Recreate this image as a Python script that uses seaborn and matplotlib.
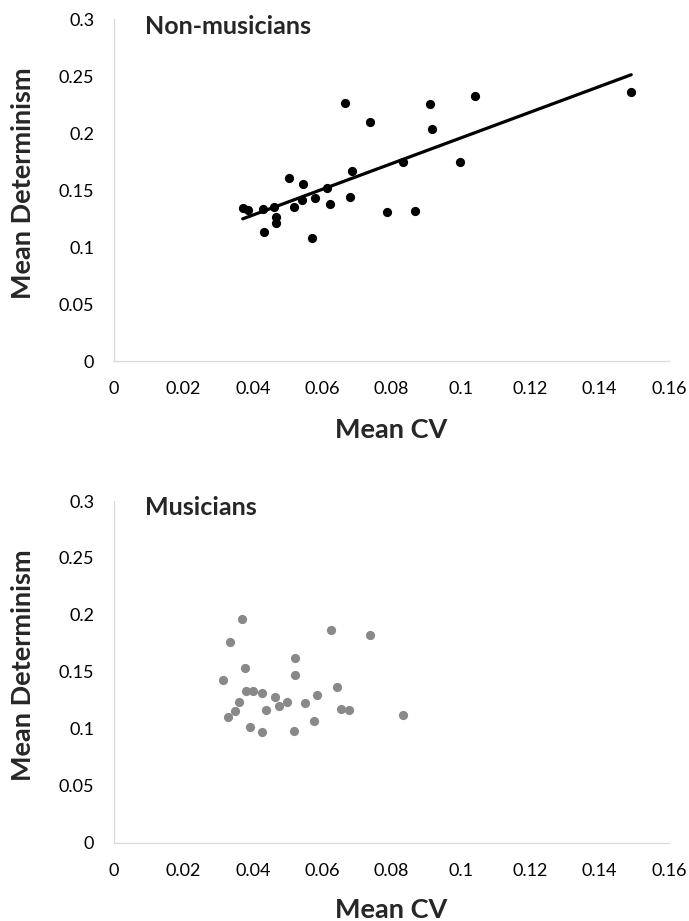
import matplotlib
matplotlib.use('Agg')
import matplotlib.pyplot as plt
from matplotlib.ticker import FuncFormatter
import seaborn as sns
import pandas as pd

# Non-musicians: mean CV vs mean determinism
nm_cv = [0.0371, 0.0387, 0.0429, 0.0460, 0.0467, 0.0467, 0.0432, 0.0503,
         0.0520, 0.0541, 0.0545, 0.0580, 0.0615, 0.0624, 0.0571, 0.0666,
         0.0679, 0.0686, 0.0738, 0.0786, 0.0833, 0.0868, 0.0911, 0.0916,
         0.0997, 0.1042, 0.1491]
nm_det = [0.1342, 0.1327, 0.1339, 0.1351, 0.1266, 0.1216, 0.1135, 0.1611,
          0.1351, 0.1418, 0.1553, 0.1430, 0.1518, 0.1377, 0.1079, 0.2263,
          0.1439, 0.1670, 0.2099, 0.1313, 0.1749, 0.1322, 0.2254, 0.2038,
          0.1749, 0.2330, 0.2360]

# Musicians
mus_cv = [0.0369, 0.0333, 0.0625, 0.0737, 0.0523, 0.0378, 0.0523, 0.0314,
          0.0644, 0.0380, 0.0402, 0.0427, 0.0465, 0.0586, 0.0359, 0.0500,
          0.0475, 0.0551, 0.0350, 0.0439, 0.0653, 0.0676, 0.0330, 0.0833,
          0.0576, 0.0391, 0.0427, 0.0520]
mus_det = [0.1961, 0.1759, 0.1865, 0.1826, 0.1621, 0.1533, 0.1475, 0.1425,
           0.1369, 0.1331, 0.1331, 0.1311, 0.1281, 0.1299, 0.1234, 0.1232,
           0.1202, 0.1223, 0.1158, 0.1167, 0.1173, 0.1164, 0.1106, 0.1117,
           0.1067, 0.1018, 0.0968, 0.0979]

panel_titles = ['Non-musicians', 'Musicians']
x_ticks = [0, 0.02, 0.04, 0.06, 0.08, 0.1, 0.12, 0.14, 0.16]
y_ticks = [0, 0.05, 0.1, 0.15, 0.2, 0.25, 0.3]

sns.set_style('white')
plt.rcParams['font.family'] = ['Lato', 'DejaVu Sans']

axis_grey = '#d9d9d9'
fig = plt.figure(figsize=(6.89, 9.21), dpi=100)
ax_top = fig.add_axes([0.1655, 0.6077, 0.8055, 0.3713])
ax_bot = fig.add_axes([0.1655, 0.0850, 0.8055, 0.3710])

nm_df = pd.DataFrame({'cv': nm_cv, 'det': nm_det})
mus_df = pd.DataFrame({'cv': mus_cv, 'det': mus_det})

# Top panel with linear trend line
sns.regplot(data=nm_df, x='cv', y='det', ax=ax_top, ci=None,
            scatter_kws={'s': 44, 'color': 'black', 'linewidths': 0,
                         'alpha': 1},
            line_kws={'color': 'black', 'linewidth': 2.3})

# Bottom panel, no trend
sns.scatterplot(data=mus_df, x='cv', y='det', ax=ax_bot, s=44,
                color='#898989', linewidth=0)

fmt = FuncFormatter(lambda v, pos: f'{v:g}')
label_y = {'Non-musicians': -0.166, 'Musicians': -0.162}
for ax, title in zip([ax_top, ax_bot], panel_titles):
    ax.set_xlim(0, 0.16)
    ax.set_ylim(0, 0.3)
    ax.set_xticks(x_ticks)
    ax.set_yticks(y_ticks)
    ax.xaxis.set_major_formatter(fmt)
    ax.yaxis.set_major_formatter(fmt)
    for side in ['top', 'right']:
        ax.spines[side].set_visible(False)
    for side in ['left', 'bottom']:
        ax.spines[side].set_color(axis_grey)
        ax.spines[side].set_linewidth(0.9)
    ax.tick_params(axis='both', direction='inout', length=8.6, width=0.9,
                   color=axis_grey, labelsize=13, labelcolor='black')
    ax.tick_params(axis='y', pad=10)
    ax.tick_params(axis='x', pad=10)
    ax.set_xlabel('Mean CV', fontsize=19.5, fontweight='bold')
    ax.set_ylabel('Mean Determinism', fontsize=19.5, fontweight='bold')
    ax.xaxis.set_label_coords(0.5, label_y[title])
    ax.yaxis.set_label_coords(-0.142, 0.52)
    ax.text(0.056, 0.98, title, transform=ax.transAxes, fontsize=18,
            fontweight='bold', ha='left', va='center')
    ax.set_facecolor('white')

fig.savefig('out.png', dpi=100, facecolor='white')
